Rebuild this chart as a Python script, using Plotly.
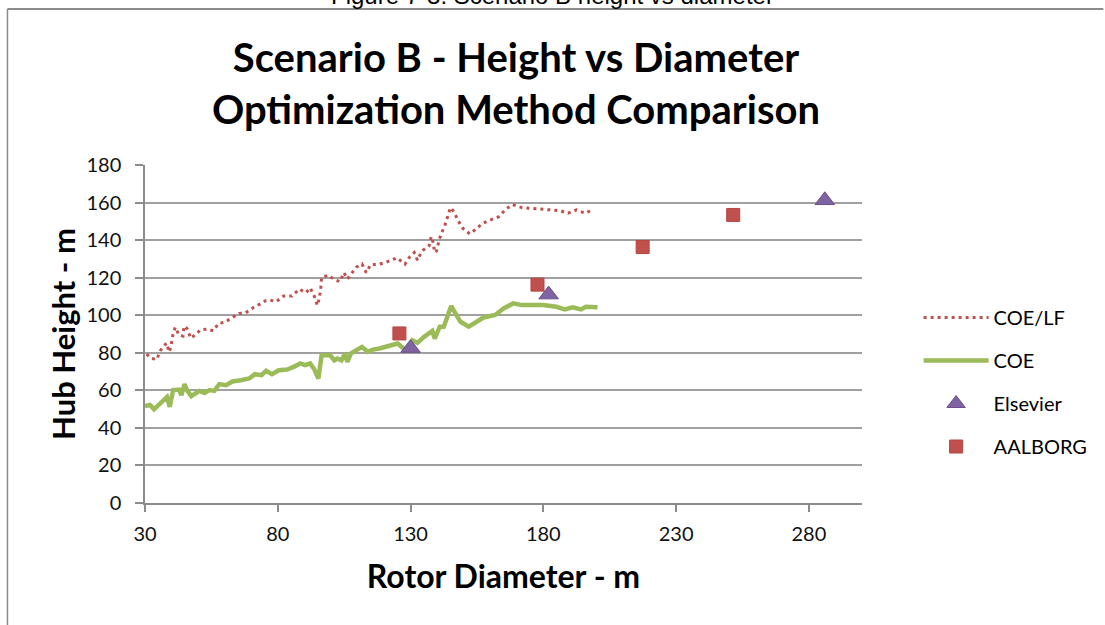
import plotly.graph_objects as go

# ---- data ----
coe_lf_x = [30.6, 32.5, 34.4, 35.9, 38.1, 39.1, 39.8, 40.3, 41.4, 42.8, 44.3, 44.7, 45.8, 47.2,
            49.3, 50.7, 53.3, 55.7, 57.7, 60.0, 62.9, 65.4, 67.9, 70.7, 73.2, 75.4, 77.1, 79.4,
            82.2, 85.3, 88.1, 90.6, 92.2, 93.7, 94.9, 95.7, 96.2, 96.5, 99.0, 101.5, 103.4,
            104.9, 106.2, 107.4, 109.6, 111.7, 113.3, 115.0, 117.7, 120.6, 123.3, 124.9, 127.9,
            129.8, 131.4, 132.6, 134.2, 137.0, 137.8, 138.5, 139.1, 139.8, 140.7, 141.6, 142.8,
            144.0, 145.0, 146.3, 147.9, 149.8, 152.3, 155.0, 157.2, 160.2, 163.3, 165.8, 168.4,
            171.8, 175.3, 179.0, 182.7, 186.3, 189.3, 192.5, 195.8, 198.8]
coe_lf_y = [79.3, 77.0, 76.4, 81.4, 85.2, 80.4, 83.2, 88.4, 93.6, 89.5, 88.9, 94.2, 93.0, 87.8,
            89.9, 92.1, 92.6, 91.7, 95.6, 96.2, 98.8, 100.9, 101.3, 104.0, 105.9, 107.7, 108.1,
            107.2, 110.2, 110.2, 113.9, 112.0, 114.6, 110.3, 105.2, 109.4, 114.8, 120.0, 121.3,
            118.8, 117.9, 122.7, 119.3, 121.6, 125.6, 127.3, 122.7, 127.0, 127.0, 128.1, 129.5,
            130.6, 127.2, 131.3, 133.4, 129.3, 134.1, 137.0, 141.9, 138.7, 133.4, 134.3, 139.6,
            143.7, 147.2, 152.2, 157.3, 155.2, 150.4, 146.1, 143.3, 146.3, 149.0, 150.8, 152.5,
            156.4, 158.9, 157.3, 157.0, 156.8, 156.1, 155.7, 154.3, 156.1, 154.3, 156.4]

coe_x = [30.0, 31.9, 33.4, 35.6, 37.5, 38.3, 39.3, 40.6, 42.8, 43.7, 44.9, 45.8, 47.4, 50.5,
         52.4, 54.3, 56.1, 58.0, 60.5, 62.9, 66.1, 69.2, 71.4, 73.9, 75.6, 77.8, 80.4, 83.5,
         86.0, 88.5, 90.3, 92.2, 93.8, 95.3, 96.5, 99.7, 101.3, 102.5, 104.0, 105.3, 106.2,
         107.5, 109.6, 111.7, 113.9, 115.8, 118.3, 120.8, 123.3, 125.1, 127.4, 128.9, 130.7,
         132.6, 135.1, 137.0, 138.2, 139.1, 141.0, 142.5, 144.0, 145.3, 146.9, 148.8, 151.9,
         155.0, 157.5, 161.9, 165.0, 168.7, 171.8, 179.9, 184.9, 188.0, 191.1, 194.2, 196.0,
         200.4]
coe_y = [51.6, 52.2, 49.9, 53.0, 55.6, 56.5, 51.2, 60.1, 60.4, 57.4, 63.3, 60.1, 56.9, 59.7,
         58.6, 60.1, 59.7, 63.3, 62.7, 64.7, 65.4, 66.3, 68.6, 68.1, 70.4, 68.6, 70.7, 71.1,
         72.5, 74.3, 73.4, 74.3, 71.1, 66.3, 78.7, 78.7, 76.0, 76.9, 76.0, 79.6, 75.1, 79.6,
         81.4, 83.1, 80.5, 81.7, 82.3, 83.1, 84.0, 84.9, 82.3, 81.4, 86.7, 85.3, 88.5, 90.3,
         91.7, 87.6, 93.9, 93.9, 99.2, 104.9, 101.0, 96.5, 93.9, 96.5, 98.8, 100.1, 103.6,
         106.3, 105.4, 105.4, 104.5, 103.1, 104.2, 103.1, 104.5, 104.2]

elsevier_x = [130.0, 182.0, 286.0]
elsevier_y = [82.5, 111.0, 161.2]

aalborg_x = [125.8, 177.8, 217.4, 251.5]
aalborg_y = [90.3, 116.3, 136.3, 153.4]

x_ticks = [30, 80, 130, 180, 230, 280]
y_ticks = [0, 20, 40, 60, 80, 100, 120, 140, 160, 180]

FONT = "Lato"

fig = go.Figure()
fig.add_trace(go.Scatter(x=coe_lf_x, y=coe_lf_y, mode="lines", name="COE/LF",
                         line=dict(color="#c0504d", width=3, dash="3px,4px"),
                         legendgroup="a"))
fig.add_trace(go.Scatter(x=coe_x, y=coe_y, mode="lines", name="COE",
                         line=dict(color="#9bbb59", width=4.5), legendgroup="b"))
fig.add_trace(go.Scatter(x=elsevier_x, y=elsevier_y, mode="markers", name="Elsevier",
                         marker=dict(symbol="triangle-up", size=17, color="#8064a2",
                                     line=dict(color="#6a4f8c", width=1)),
                         legendgroup="c"))
fig.add_trace(go.Scatter(x=aalborg_x, y=aalborg_y, mode="markers", name="AALBORG",
                         marker=dict(symbol="square", size=13, color="#c0504d",
                                     line=dict(color="#b64542", width=1)),
                         legendgroup="d"))

L, R, T, B = 145, 867, 165, 503
W, H = 1105, 625
pw, ph = R - L, B - T

def px_x(p):
    return (p - L) / pw

def px_y(p):
    return (B - p) / ph

fig.update_layout(
    width=W, height=H,
    margin=dict(l=L, r=W - R, t=T, b=H - B),
    paper_bgcolor="white", plot_bgcolor="white",
    font=dict(family=FONT, color="#000000"),
    title=dict(text="<b>Scenario B - Height vs Diameter<br>Optimization Method Comparison</b>",
               x=516 / W, xanchor="center", y=1 - 72 / H, yanchor="middle",
               font=dict(family=FONT, size=40, color="#000000")),
    xaxis=dict(range=[30, 300], tickvals=x_ticks, showgrid=False,
               showline=True, linecolor="#8c8c8c", linewidth=1.5,
               ticks="outside", ticklen=7, tickcolor="#8c8c8c", tickwidth=1.5,
               ticklabelstandoff=5,
               tickfont=dict(family=FONT, size=20, color="#111111"),
               title=dict(text="<b>Rotor Diameter - m</b>", font=dict(family=FONT, size=32),
                          standoff=22),
               zeroline=False),
    yaxis=dict(range=[0, 180], tickvals=y_ticks, showgrid=True, gridcolor="#a0a0a0",
               gridwidth=1.5, showline=True, linecolor="#8c8c8c", linewidth=1.5,
               ticks="outside", ticklen=8, tickcolor="#8c8c8c", tickwidth=1.5,
               ticklabelstandoff=10,
               tickfont=dict(family=FONT, size=20, color="#111111"),
               title=dict(text="<b>Hub Height - m</b>", font=dict(family=FONT, size=31),
                          standoff=2),
               zeroline=False),
    legend=dict(x=px_x(924), xanchor="left", y=px_y(298), yanchor="top",
                font=dict(family=FONT, size=20, color="#000000"),
                traceorder="grouped", tracegroupgap=14, itemwidth=65,
                bgcolor="rgba(0,0,0,0)"),
    showlegend=True,
)

# chart frame (top and left border of the embedded chart)
fig.add_shape(type="line", xref="paper", yref="paper",
              x0=px_x(6.5), x1=px_x(1110), y0=px_y(9), y1=px_y(9),
              line=dict(color="#8c8c8c", width=2))
fig.add_shape(type="line", xref="paper", yref="paper",
              x0=px_x(6.5), x1=px_x(6.5), y0=px_y(9), y1=px_y(630),
              line=dict(color="#8c8c8c", width=1.5))

# partially visible caption above the chart
fig.add_annotation(text="Figure 7-8: Scenario B height vs diameter", xref="paper", yref="paper",
                   x=px_x(555), y=px_y(11), xanchor="center", yanchor="bottom",
                   showarrow=False, font=dict(family="Liberation Sans", size=24, color="#000000"))

fig.write_html("out.html", config={"displayModeBar": False},
               post_script="document.body.style.margin='0';")
